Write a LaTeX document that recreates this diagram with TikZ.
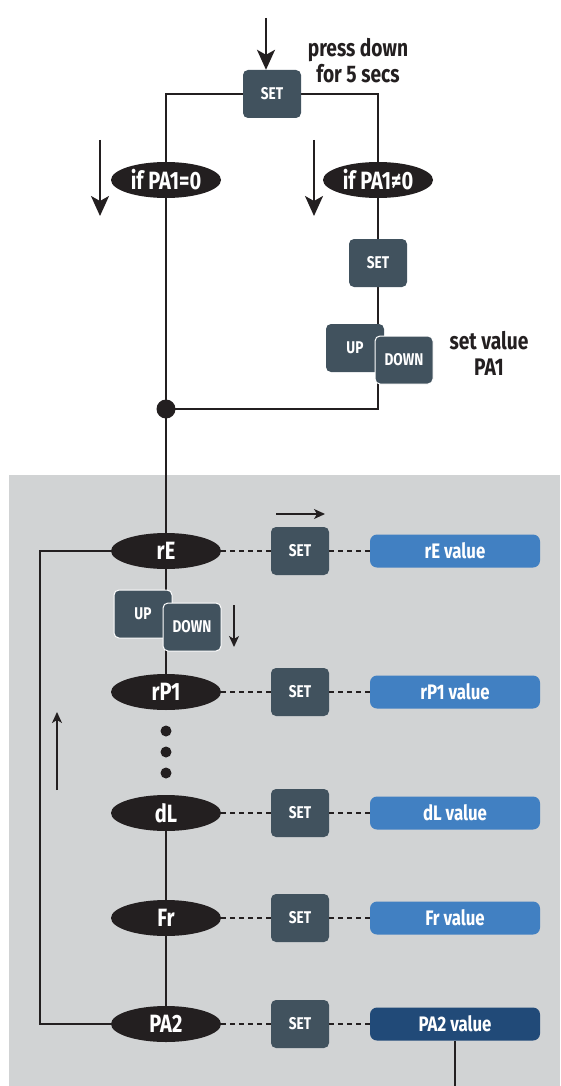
\documentclass[tikz,border=0pt]{standalone}
\usepackage{fontspec}
\setmainfont{Fira Sans}[FakeStretch=0.8]
\usetikzlibrary{arrows.meta,shapes.geometric,calc}
\definecolor{boxc}{HTML}{41525E}
\definecolor{ovalc}{HTML}{231F20}
\definecolor{greyc}{HTML}{D1D3D4}
\definecolor{bluec}{HTML}{4180C2}
\definecolor{dbluec}{HTML}{214A78}
\pgfdeclarelayer{back}
\pgfdeclarelayer{lines}
\pgfsetlayers{back,lines,main}
\begin{document}
\begin{tikzpicture}[x=1pt,y=-1pt,
  btn/.style={fill=boxc,rounded corners=5pt,minimum width=58pt,minimum height=48pt,inner sep=0pt,text=white,font=\bfseries\fontsize{17}{17}\selectfont},
  btnw/.style={btn,draw=white,line width=1pt},
  oval/.style={ellipse,fill=ovalc,minimum width=110pt,minimum height=36pt,inner sep=0pt,text=white,font=\bfseries\fontsize{25}{25}\selectfont},
  val/.style={fill=bluec,rounded corners=7pt,minimum width=170pt,minimum height=33pt,inner sep=0pt,text=white,font=\bfseries\fontsize{21}{21}\selectfont},
  lab/.style={text=ovalc,align=center,font=\bfseries\fontsize{24}{26}\selectfont},
  ln/.style={line width=2pt,draw=ovalc},
  dotln/.style={line width=2pt,draw=ovalc,dash pattern=on 5pt off 4pt},
  bigarr/.style={line width=2pt,draw=ovalc,-{Stealth[length=20pt,width=18pt,inset=5pt]}},
  smarr/.style={line width=1.5pt,draw=ovalc,-{Stealth[length=11pt,width=10pt,inset=3pt]}},
  bdot/.style={circle,fill=ovalc,inner sep=0pt}
]
\useasboundingbox (0,0) rectangle (560,1086);
\begin{pgfonlayer}{back}
\fill[greyc] (9,475) rectangle (560,1086);
\end{pgfonlayer}

% top part
\node[btn] (set0) at (272,94) {SET};
\node[lab] (press) at (358,61) {press down\\for 5 secs};
\node[oval] (c0) at (166,180) {if PA1=0};
\node[oval] (c1) at (378,180) {if PA1≠0};
\node[btn] (set1) at (378,263) {SET};
\node[btn] (up0) at (355,348) {UP};
\node[btnw] (dn0) at (404,360) {DOWN};
\node[lab] (setv) at (489,353) {set value\\PA1};
\node[bdot,minimum size=19pt] (j) at (166,409) {};

\coordinate (a0) at (266,18);
\coordinate (la1) at (100,140);
\coordinate (la2) at (100,216);
\coordinate (ra1) at (314,140);
\coordinate (ra2) at (314,216);

% grey part
\node[oval] (rE) at (166,551) {rE};
\node[btn] (sE) at (300,551) {SET};
\node[val] (vE) at (455,551) {rE value};
\node[btnw] (upE) at (143,614) {UP};
\node[btnw] (dnE) at (192,627) {DOWN};
\node[oval] (rP) at (166,692) {rP1};
\node[btn] (sP) at (300,692) {SET};
\node[val] (vP) at (455,692) {rP1 value};
\node[bdot,minimum size=11pt] (d1) at (166,731) {};
\node[bdot,minimum size=11pt] (d2) at (166,752) {};
\node[bdot,minimum size=11pt] (d3) at (166,773) {};
\node[oval] (dL) at (166,813) {dL};
\node[btn] (sD) at (300,813) {SET};
\node[val] (vD) at (455,813) {dL value};
\node[oval] (Fr) at (166,918) {Fr};
\node[btn] (sF) at (300,918) {SET};
\node[val] (vF) at (455,918) {Fr value};
\node[oval] (PA) at (166,1024) {PA2};
\node[btn] (sA) at (300,1024) {SET};
\node[val,fill=dbluec] (vA) at (455,1024) {PA2 value};

\coordinate (lp) at (40,551);
\coordinate (ua1) at (57,790);
\coordinate (ua2) at (57,712);
\coordinate (ta1) at (276,514);
\coordinate (ta2) at (325,514);
\coordinate (da1) at (234,605);
\coordinate (da2) at (234,647);
\coordinate (bot) at (455,1086);

\begin{pgfonlayer}{lines}
\draw[ln] (set0.west) -| (j.center);
\draw[ln] (set0.east) -| (c1.center) -- (set1.center) |- (j.center);
\draw[ln] (j.center) -- (rE.center);
\draw[ln] (rE.center) -- (rP.center);
\draw[ln] (dL.center) -- (Fr.center) -- (PA.center);
\draw[ln] (PA.west) -| (lp) -- (rE.west);
\draw[ln] (vA.south) -- (bot);
\end{pgfonlayer}

\draw[bigarr] (a0) -- (a0 |- set0.north);
\draw[bigarr] (la1) -- (la2);
\draw[bigarr] (ra1) -- (ra2);
\draw[smarr] (ua1) -- (ua2);
\draw[smarr] (ta1) -- (ta2);
\draw[smarr] (da1) -- (da2);

\foreach \a/\b/\c in {rE/sE/vE, rP/sP/vP, dL/sD/vD, Fr/sF/vF, PA/sA/vA}{
  \draw[dotln] (\a.east) -- (\b.west);
  \draw[dotln] (\b.east) -- (\c.west);
}
\end{tikzpicture}
\end{document}
